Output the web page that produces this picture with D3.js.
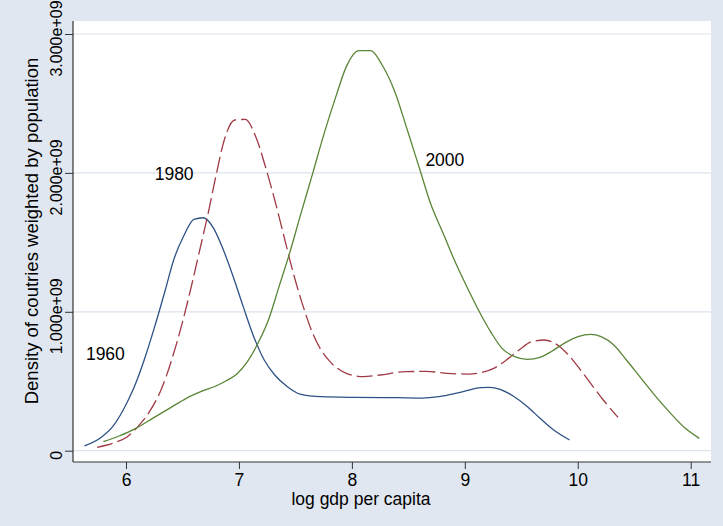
<!DOCTYPE html>
<html>
<head>
<meta charset="utf-8">
<script src="https://cdn.jsdelivr.net/npm/d3@7"></script>
<style>
  html, body { margin: 0; padding: 0; background: #e0e7f0; }
  svg { display: block; }
  text { font-family: "Liberation Sans", Arial, sans-serif; fill: #000; }
</style>
</head>
<body>
<svg id="chart" width="723" height="526"></svg>
<script>
// ---- data (log gdp per capita, density) ----
const x1960 = [5.632,5.788,5.882,5.975,6.068,6.161,6.254,6.348,6.422,6.515,6.601,6.683,6.776,6.851,6.944,7.038,7.131,7.224,7.317,7.429,7.541,7.727,8.026,8.399,8.622,8.771,8.958,9.144,9.219,9.312,9.424,9.555,9.666,9.778,9.927];
const d1960 = [0.034,0.101,0.173,0.293,0.449,0.653,0.893,1.157,1.373,1.553,1.665,1.677,1.601,1.469,1.265,1.037,0.821,0.653,0.545,0.461,0.408,0.389,0.384,0.382,0.379,0.389,0.420,0.454,0.456,0.442,0.396,0.317,0.233,0.154,0.077].map(v => v * 1e9);

const x1980 = [5.744,5.900,6.012,6.105,6.198,6.310,6.404,6.497,6.571,6.646,6.721,6.795,6.870,6.963,7.056,7.149,7.243,7.317,7.392,7.466,7.560,7.653,7.727,7.821,7.951,8.100,8.249,8.473,8.659,8.846,9.032,9.144,9.256,9.368,9.480,9.592,9.704,9.797,9.890,10.002,10.114,10.226,10.357];
const d1980 = [0.024,0.058,0.101,0.173,0.269,0.437,0.653,0.917,1.157,1.421,1.685,1.973,2.237,2.381,2.385,2.261,2.021,1.805,1.565,1.325,1.061,0.845,0.725,0.629,0.557,0.533,0.545,0.569,0.571,0.557,0.552,0.562,0.593,0.653,0.725,0.785,0.797,0.773,0.713,0.605,0.485,0.365,0.240].map(v => v * 1e9);

const x2000 = [5.800,5.938,6.087,6.236,6.385,6.534,6.683,6.795,6.888,6.982,7.075,7.168,7.261,7.355,7.448,7.541,7.653,7.746,7.858,7.951,8.063,8.167,8.268,8.380,8.491,8.603,8.696,8.808,8.920,9.032,9.144,9.237,9.330,9.442,9.554,9.666,9.778,9.890,10.002,10.114,10.207,10.319,10.431,10.561,10.692,10.822,10.953,11.076];
const d2000 = [0.065,0.106,0.161,0.233,0.305,0.377,0.432,0.466,0.504,0.552,0.641,0.773,0.941,1.181,1.421,1.685,1.997,2.261,2.549,2.765,2.880,2.880,2.777,2.585,2.309,2.021,1.781,1.565,1.349,1.157,0.977,0.845,0.737,0.677,0.658,0.672,0.720,0.778,0.821,0.838,0.821,0.761,0.653,0.521,0.389,0.269,0.161,0.089].map(v => v * 1e9);

const seriesNames = ["1960", "1980", "2000"];
const labelX = [5.645, 6.254, 8.651];
const labelY = [0.653e9, 1.949e9, 2.050e9];

const xTicks = [6, 7, 8, 9, 10, 11];
const yTicks = [0, 1e9, 2e9, 3e9];
const yTickLabels = ["0", "1.000e+09", "2.000e+09", "3.000e+09"];

const xTitle = "log gdp per capita";
const yTitle = "Density of coutries weighted by population";

// ---- layout ----
const W = 723, H = 526;
const plot = { left: 73, right: 711, top: 21, bottom: 462 };
const colors = ["#2e5286", "#a03a44", "#5a8536"];
const dashes = [null, "16,5", null];

const svg = d3.select("#chart");
svg.append("rect").attr("width", W).attr("height", H).attr("fill", "#e0e7f0");
svg.append("rect")
  .attr("x", plot.left).attr("y", plot.top)
  .attr("width", plot.right - plot.left).attr("height", plot.bottom - plot.top)
  .attr("fill", "#ffffff");

const x = d3.scaleLinear().domain([6, 11]).range([126, 690.7]);
const y = d3.scaleLinear().domain([0, 3e9]).range([450.7, 34]);

// gridlines
svg.append("g").selectAll("line").data(yTicks).join("line")
  .attr("x1", plot.left).attr("x2", plot.right)
  .attr("y1", d => y(d)).attr("y2", d => y(d))
  .attr("stroke", "#dbe4ee").attr("stroke-width", 1.2);

// series
const series = [
  { xs: x1960, ds: d1960 },
  { xs: x1980, ds: d1980 },
  { xs: x2000, ds: d2000 }
];
const line = d3.line().x(d => x(d[0])).y(d => y(d[1])).curve(d3.curveMonotoneX);
series.forEach((s, i) => {
  const pts = s.xs.map((v, j) => [v, s.ds[j]]);
  svg.append("path")
    .datum(pts)
    .attr("d", line)
    .attr("fill", "none")
    .attr("stroke", colors[i])
    .attr("stroke-width", 1.3)
    .attr("stroke-dasharray", dashes[i]);
});

// series labels
svg.append("g").selectAll("text").data(seriesNames).join("text")
  .attr("x", (d, i) => x(labelX[i]))
  .attr("y", (d, i) => y(labelY[i]))
  .attr("font-size", "17.5px")
  .text(d => d);

// x axis
const xAxis = svg.append("g")
  .attr("transform", `translate(0,${plot.bottom})`)
  .call(d3.axisBottom(x).tickValues(xTicks).tickSize(7).tickPadding(5).tickFormat(d3.format("d")));
xAxis.select(".domain").remove();
xAxis.selectAll(".tick line").attr("stroke", "#333").attr("stroke-width", 1);
xAxis.selectAll(".tick text")
  .attr("font-size", "17.5px")
  .attr("font-family", "Liberation Sans, Arial, sans-serif")
  .attr("fill", "#000");

// y axis
const yAxis = svg.append("g")
  .attr("transform", `translate(${plot.left},0)`)
  .call(d3.axisLeft(y).tickValues(yTicks).tickSize(8).tickFormat((d, i) => yTickLabels[i]));
yAxis.select(".domain").remove();
yAxis.selectAll(".tick line").attr("stroke", "#333").attr("stroke-width", 1);
yAxis.selectAll(".tick text")
  .attr("x", null).attr("dy", null)
  .attr("transform", "translate(-11,4) rotate(-90)")
  .attr("text-anchor", "middle")
  .attr("font-size", "16px")
  .attr("font-family", "Liberation Sans, Arial, sans-serif")
  .attr("fill", "#000");

// axis lines
svg.append("line").attr("x1", plot.left).attr("x2", plot.left)
  .attr("y1", plot.top).attr("y2", plot.bottom)
  .attr("stroke", "#333").attr("stroke-width", 1.2);
svg.append("line").attr("x1", plot.left).attr("x2", plot.right)
  .attr("y1", plot.bottom).attr("y2", plot.bottom)
  .attr("stroke", "#333").attr("stroke-width", 1.2);

// titles
svg.append("text")
  .attr("x", (plot.left + plot.right) / 2 - 31)
  .attr("y", 505)
  .attr("text-anchor", "middle")
  .attr("font-size", "17.5px")
  .text(xTitle);
svg.append("text")
  .attr("transform", `translate(38,231) rotate(-90)`)
  .attr("text-anchor", "middle")
  .attr("font-size", "18.5px")
  .text(yTitle);
</script>
</body>
</html>
